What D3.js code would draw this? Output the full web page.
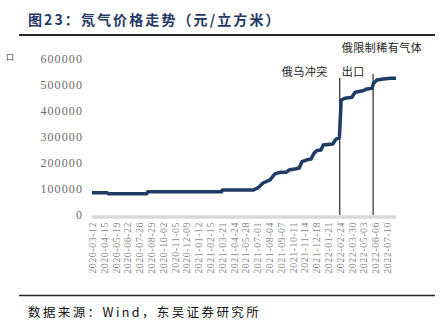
<!DOCTYPE html>
<html>
<head>
<meta charset="utf-8">
<script src="https://cdn.jsdelivr.net/npm/d3@7/dist/d3.min.js"></script>
<style>
  html, body { margin: 0; padding: 0; background: #ffffff; }
  svg { display: block; }
</style>
</head>
<body>
<svg id="chart" width="443" height="326"></svg>
<script>
// Neon price (yuan per cubic metre), read at each change in the series
const priceDates = [
  "2020-03-12", "2020-04-24", "2020-04-28", "2020-08-17", "2020-08-20",
  "2021-03-20", "2021-03-23", "2021-06-19", "2021-07-03", "2021-07-18",
  "2021-08-07", "2021-08-21", "2021-09-05", "2021-09-22", "2021-10-01",
  "2021-10-21", "2021-10-30", "2021-11-07", "2021-11-24", "2021-12-03",
  "2021-12-12", "2021-12-20", "2022-01-01", "2022-01-07", "2022-02-04",
  "2022-02-13", "2022-02-22", "2022-02-23", "2022-02-28", "2022-03-11",
  "2022-03-31", "2022-04-09", "2022-05-02", "2022-05-13", "2022-05-28",
  "2022-06-01", "2022-06-11", "2022-06-29", "2022-07-19", "2022-08-05"
];
const priceValues = [
  86000, 86000, 82000, 82000, 89000,
  89000, 96000, 96000, 104000, 123000,
  135000, 158000, 164000, 164000, 173000,
  178000, 181000, 205000, 213000, 215000,
  238000, 248000, 250000, 269000, 273000,
  292000, 296000, 300000, 442000, 449000,
  453000, 472000, 478000, 485000, 487000,
  506000, 519000, 523000, 526000, 526000
];

// x-axis tick labels (every 34 days)
const tickLabels = [
  "2020-03-12", "2020-04-15", "2020-05-19", "2020-06-22", "2020-07-26",
  "2020-08-29", "2020-10-02", "2020-11-05", "2020-12-09", "2021-01-12",
  "2021-02-15", "2021-03-21", "2021-04-24", "2021-05-28", "2021-07-01",
  "2021-08-04", "2021-09-07", "2021-10-11", "2021-11-14", "2021-12-18",
  "2022-01-21", "2022-02-24", "2022-03-30", "2022-05-03", "2022-06-06",
  "2022-07-10"
];
const yTicks = [0, 100000, 200000, 300000, 400000, 500000, 600000];

// Event markers
const eventDates = ["2022-02-24", "2022-05-31"];
const eventLabels = [["俄乌冲突"], ["俄限制稀有气体", "出口"]];

const titleText = "图23：氖气价格走势（元/立方米）";
const sourceText = "数据来源：Wind，东吴证券研究所";

const parse = d3.utcParse("%Y-%m-%d");
const series = priceDates.map((d, i) => ({ date: parse(d), value: priceValues[i] }));

const svg = d3.select("#chart");
const cjk = "'Noto Sans CJK SC', sans-serif";
const serif = "'Liberation Serif', 'Times New Roman', serif";

const x = d3.scaleUtc()
  .domain([parse("2020-03-12"), parse("2022-08-05")])
  .range([92, 396]);
const y = d3.scaleLinear()
  .domain([0, 600000])
  .range([215, 59]);

// Title and rules
svg.append("text")
  .attr("x", 28).attr("y", 25)
  .attr("font-family", cjk)
  .attr("font-size", 14)
  .attr("font-weight", "bold")
  .attr("letter-spacing", 2.1)
  .attr("fill", "#1f3864")
  .text(titleText);

svg.append("line")
  .attr("x1", 19).attr("x2", 435)
  .attr("y1", 35).attr("y2", 35)
  .attr("stroke", "#262626").attr("stroke-width", 2);

svg.append("line")
  .attr("x1", 19).attr("x2", 435)
  .attr("y1", 295.5).attr("y2", 295.5)
  .attr("stroke", "#262626").attr("stroke-width", 1.3);

svg.append("text")
  .attr("x", 28).attr("y", 317)
  .attr("font-family", cjk)
  .attr("font-size", 12.5)
  .attr("letter-spacing", 2.4)
  .attr("fill", "#111111")
  .text(sourceText);

// Y axis unit glyph
svg.append("text")
  .attr("x", 6).attr("y", 60)
  .attr("font-family", cjk)
  .attr("font-size", 8)
  .attr("fill", "#333333")
  .text("口");

// Y axis
const yAxis = svg.append("g")
  .attr("transform", "translate(83,0)")
  .call(d3.axisLeft(y).tickValues(yTicks).tickSize(0).tickPadding(0).tickFormat(d3.format("d")));
yAxis.select(".domain").remove();
yAxis.selectAll("text")
  .attr("font-family", serif)
  .attr("font-size", 12)
  .attr("letter-spacing", 1.1)
  .attr("fill", "#6b6b6b");

// X axis band
svg.append("line")
  .attr("x1", 92).attr("x2", 396)
  .attr("y1", 217).attr("y2", 217)
  .attr("stroke", "#d9d9d9").attr("stroke-width", 3.5);

const xAxis = svg.append("g")
  .attr("transform", "translate(0,222)")
  .call(d3.axisBottom(x).tickValues(tickLabels.map(parse)).tickSize(0).tickPadding(0)
    .tickFormat(d3.utcFormat("%Y-%m-%d")));
xAxis.select(".domain").remove();
xAxis.selectAll("text")
  .attr("font-family", serif)
  .attr("font-size", 10)
  .attr("letter-spacing", 0.5)
  .attr("fill", "#8a8a8a")
  .attr("text-anchor", "end")
  .attr("dy", "0.35em")
  .attr("transform", "rotate(-90)")
  .attr("x", 0).attr("y", 0);

// Event lines
eventDates.forEach((d, i) => {
  svg.append("line")
    .attr("x1", x(parse(d))).attr("x2", x(parse(d)))
    .attr("y1", i === 0 ? 78 : 74).attr("y2", 215)
    .attr("stroke", "#000000").attr("stroke-width", 1);
});

// Price line
const line = d3.line()
  .x(d => x(d.date))
  .y(d => y(d.value))
  .curve(d3.curveLinear);

svg.append("path")
  .datum(series)
  .attr("d", line)
  .attr("fill", "none")
  .attr("stroke", "#1f3c64")
  .attr("stroke-width", 3.5)
  .attr("stroke-linejoin", "round")
  .attr("stroke-linecap", "butt");

// Event annotations
const annoFont = { family: cjk, size: 11 };
svg.append("text")
  .attr("x", x(parse(eventDates[0])) - 12).attr("y", 76)
  .attr("text-anchor", "end")
  .attr("font-family", annoFont.family)
  .attr("font-size", annoFont.size)
  .attr("letter-spacing", 0.5)
  .attr("fill", "#222222")
  .text(eventLabels[0][0]);

eventLabels[1].forEach((t, j) => {
  svg.append("text")
    .attr("x", x(parse(eventDates[0])) + 2).attr("y", 52 + j * 24)
    .attr("font-family", annoFont.family)
    .attr("font-size", annoFont.size)
    .attr("letter-spacing", 0.5)
    .attr("fill", "#222222")
    .text(t);
});
</script>
</body>
</html>
